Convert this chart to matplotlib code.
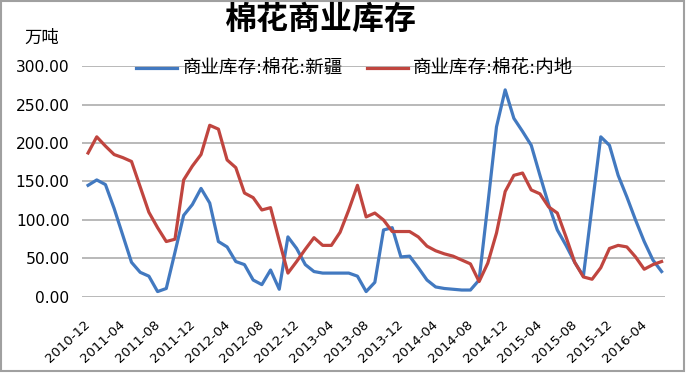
import matplotlib
matplotlib.use("Agg")
import matplotlib.pyplot as plt
import matplotlib.transforms as mtransforms
from matplotlib.patches import Rectangle

plt.rcParams['font.family'] = ['DejaVu Sans', 'Noto Sans CJK SC']

# months 2010-12 .. 2016-06
months = []
y, m = 2010, 12
for _ in range(67):
    months.append(f"{y}-{m:02d}")
    m += 1
    if m > 12:
        m = 1
        y += 1

xinjiang = [145, 152, 146, 115, 80, 45, 32, 27, 7, 11,
            58, 106, 120, 141, 122, 72, 65, 46, 42, 22,
            16, 35, 10, 78, 63, 42, 33, 31, 31, 31,
            31, 27, 7, 19, 87, 90, 52, 53, 38, 22,
            13, 11, 10, 9, 9, 22, 120, 221, 269, 232,
            215, 197, 158, 120, 87, 67, 45, 27, 118, 208,
            197, 158, 130, 100, 72, 48, 33]

neidi = [187, 208, 196, 185, 181, 176, 143, 110, 90, 72,
         75, 152, 170, 185, 223, 218, 178, 168, 135, 129,
         113, 116, 73, 31, 46, 62, 77, 67, 67, 84,
         113, 145, 104, 109, 100, 85, 85, 85, 78, 66,
         60, 56, 53, 48, 43, 20, 44, 83, 137, 158,
         161, 139, 134, 117, 109, 78, 45, 26, 23, 38,
         63, 67, 65, 52, 36, 42, 46]

label_xj = "商业库存:棉花:新疆"
label_nd = "商业库存:棉花:内地"
yticks = [0, 50, 100, 150, 200, 250, 300]

fig = plt.figure(figsize=(6.86, 3.74), dpi=100)
ax = fig.add_axes([0.1195, 0.206, 0.85, 0.6175])

x = list(range(len(months)))
ax.plot(x, xinjiang, color='#4279C0', lw=2.3, label=label_xj, solid_joinstyle='round')
ax.plot(x, neidi, color='#C0453F', lw=2.3, label=label_nd, solid_joinstyle='round')

ax.set_xlim(-0.7, 66.4)
ax.set_ylim(0, 300)
ax.set_yticks(yticks)
ax.set_yticklabels([f"{v:.2f}" for v in yticks], fontsize=11.2)
ax.yaxis.grid(True, color='#A6A6A6', lw=1.1)
ax.set_axisbelow(True)
for s in ax.spines.values():
    s.set_visible(False)
ax.tick_params(axis='y', length=0, pad=9)
ax.tick_params(axis='x', length=0, pad=15)

ticks = x[::4]
ax.set_xticks(ticks)
ax.set_xticklabels([months[i] for i in ticks], rotation=43, ha='right', va='top', fontsize=9.5)
off = mtransforms.ScaledTranslation(5 / 100, 0, fig.dpi_scale_trans)
for lab in ax.get_xticklabels():
    lab.set_transform(lab.get_transform() + off)

ax.legend(loc='center', bbox_to_anchor=(0.468, 0.987), ncol=2, frameon=False,
          fontsize=13.3, handlelength=2.2, columnspacing=1.3, handletextpad=0.3,
          borderpad=0, borderaxespad=0)

fig.text(0.468, 0.945, "棉花商业库存", fontsize=23, fontweight='bold', ha='center', va='center')
fig.text(0.061, 0.9, "万吨", fontsize=12.5, ha='center', va='center')

fig.patches.append(Rectangle((0.002, 0.008), 0.995, 0.988, transform=fig.transFigure,
                             fill=False, edgecolor='#A0A0A0', lw=1.5))

fig.savefig("out.png", dpi=100)
